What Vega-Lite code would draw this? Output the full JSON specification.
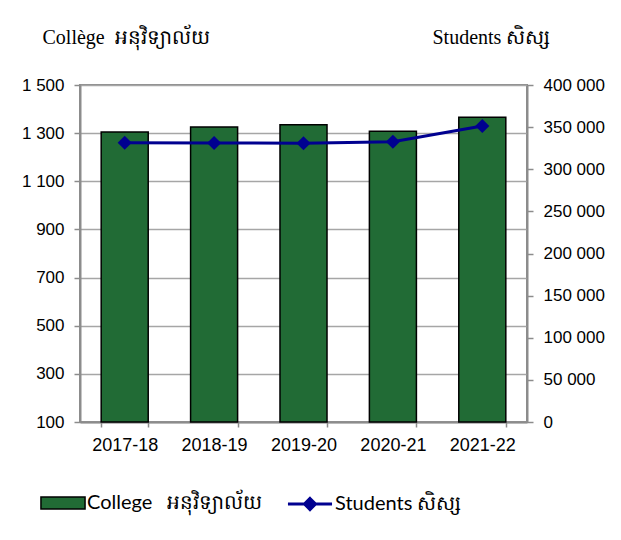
{
  "$schema": "https://vega.github.io/schema/vega-lite/v6.json",
  "width": 447,
  "height": 337,
  "autosize": {"type": "none"},
  "padding": {"left": 80, "top": 85, "right": 94, "bottom": 118},
  "background": "white",
  "config": {
    "view": {"stroke": "#8C8C8C", "strokeWidth": 2},
    "axis": {
      "domainColor": "#8C8C8C",
      "domainWidth": 2,
      "tickColor": "#8C8C8C",
      "tickWidth": 1.5,
      "tickSize": 6,
      "gridColor": "#A6A6A6",
      "gridWidth": 1.5,
      "labelFont": "Liberation Sans",
      "labelFontSize": 17,
      "labelColor": "black"
    },
    "legend": {
      "orient": "none",
      "direction": "horizontal",
      "title": null,
      "symbolSize": 600,
      "labelFont": "Lato",
      "labelFontSize": 20,
      "labelColor": "black",
      "labelOffset": 11,
      "labelLimit": 400,
      "symbolOpacity": 1
    }
  },
  "data": {
    "values": [
      {"year": "2017-18", "college": 1305, "students": 331500},
      {"year": "2018-19", "college": 1326, "students": 331200},
      {"year": "2019-20", "college": 1335, "students": 330800},
      {"year": "2020-21", "college": 1308, "students": 332700},
      {"year": "2021-22", "college": 1366, "students": 351300}
    ]
  },
  "encoding": {
    "x": {
      "field": "year",
      "type": "nominal",
      "sort": null,
      "scale": {"paddingInner": 0.474, "paddingOuter": 0.237},
      "axis": {
        "title": null,
        "labelAngle": 0,
        "tickBand": "extent",
        "tickSize": 5,
        "labelPadding": 9,
        "labelFontSize": 18,
        "grid": false
      }
    }
  },
  "layer": [
    {
      "mark": {"type": "bar", "stroke": "black", "strokeWidth": 1.5},
      "encoding": {
        "y": {
          "field": "college",
          "type": "quantitative",
          "scale": {"domain": [100, 1500], "zero": false, "nice": false},
          "axis": {
            "values": [100, 300, 500, 700, 900, 1100, 1300, 1500],
            "labelExpr": "replace(format(datum.value, ','), ',', ' ')",
            "labelPadding": 10,
            "grid": true,
            "title": "Collège\u2002អនុវិទ្យាល័យ",
            "titleAngle": 0,
            "titleAlign": "left",
            "titleBaseline": "middle",
            "titleX": -38,
            "titleY": -48,
            "titleFont": "Liberation Serif",
            "titleFontSize": 20,
            "titleFontWeight": "normal",
            "titleColor": "black"
          }
        },
        "y2": {"datum": 100},
        "fill": {
          "datum": "College\u2003អនុវិទ្យាល័យ",
          "scale": {"domain": ["College\u2003អនុវិទ្យាល័យ"], "range": ["#216B35"]},
          "legend": {
            "orient": "none",
            "legendX": -30,
            "legendY": 405,
            "symbolType": "M-1.8,-0.5H1.8V0.5H-1.8Z",
            "symbolStrokeColor": "black",
            "symbolStrokeWidth": 1.5,
            "symbolFillColor": "#216B35"
          }
        }
      }
    },
    {
      "layer": [
        {
          "mark": {"type": "line", "strokeWidth": 3},
          "encoding": {
            "y": {"field": "students", "type": "quantitative"},
            "color": {
              "datum": "Students សិស្ស",
              "scale": {"domain": ["Students សិស្ស"], "range": ["#000090"]},
              "legend": {
                "orient": "none",
                "legendX": 216,
                "legendY": 405,
                "symbolType": "M-1.8,0H1.8M0,-0.45L0.45,0L0,0.45L-0.45,0Z",
                "symbolStrokeColor": "#000090",
                "symbolStrokeWidth": 3,
                "symbolFillColor": "#000090"
              }
            }
          }
        },
        {
          "mark": {"type": "point", "filled": true, "size": 200, "opacity": 1, "shape": "diamond"},
          "encoding": {
            "y": {"field": "students", "type": "quantitative"},
            "color": {"datum": "Students សិស្ស"}
          }
        }
      ],
      "encoding": {
        "y": {
          "field": "students",
          "type": "quantitative",
          "scale": {"domain": [0, 400000], "nice": false},
          "axis": {
            "orient": "right",
            "values": [0, 50000, 100000, 150000, 200000, 250000, 300000, 350000, 400000],
            "labelExpr": "replace(format(datum.value, ','), ',', ' ')",
            "labelPadding": 10,
            "grid": false,
            "title": "Students សិស្ស",
            "titleAngle": 0,
            "titleAlign": "left",
            "titleBaseline": "middle",
            "titleX": -95,
            "titleY": -48,
            "titleFont": "Liberation Serif",
            "titleFontSize": 20,
            "titleFontWeight": "normal",
            "titleColor": "black"
          }
        }
      }
    }
  ],
  "resolve": {
    "scale": {"y": "independent", "color": "independent", "fill": "independent"},
    "legend": {"color": "independent", "fill": "independent"}
  }
}
